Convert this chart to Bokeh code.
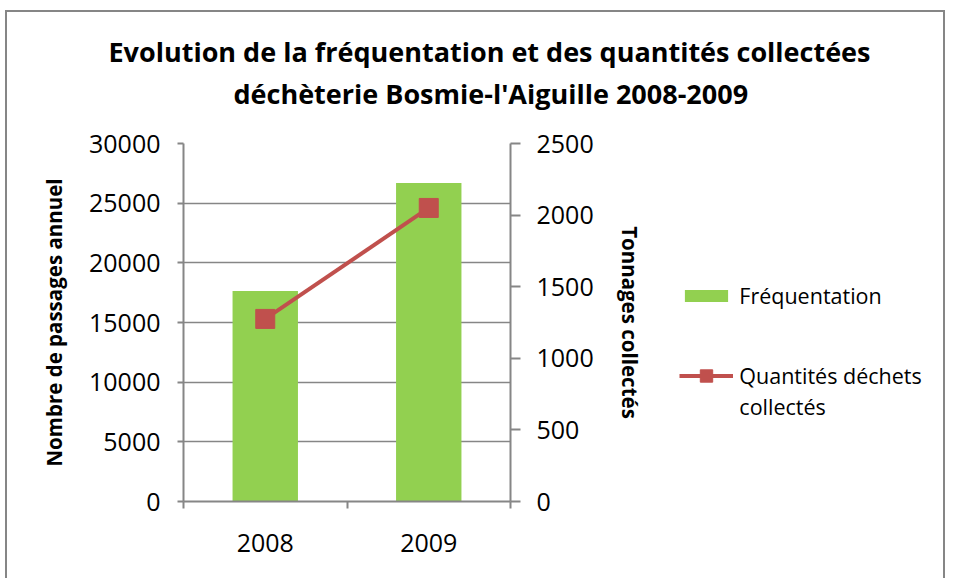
import math
from bokeh.plotting import figure
from bokeh.layouts import column
from bokeh.models import (Range1d, LinearAxis, FixedTicker, Title,
                          Legend, LegendItem, ColumnDataSource)
from bokeh.embed import file_html
from bokeh.resources import INLINE

# ---- data ----
categories = ["2008", "2009"]
frequentation = [17650, 26700]
tonnages = [1275, 2050]
left_ticks = [0, 5000, 10000, 15000, 20000, 25000, 30000]
right_ticks = [0, 500, 1000, 1500, 2000, 2500]
title_lines = ["Evolution de la fréquentation et des quantités collectées",
               "déchèterie Bosmie-l'Aiguille 2008-2009"]
left_label = "Nombre de passages annuel"
right_label = "Tonnages collectés"
series_names = ["Fréquentation", "Quantités déchets", "collectés"]

GRAY = "#868686"
GREEN = "#92D050"
RED = "#C0504D"
FONT = "Open Sans"

centres = [i + 0.5 for i in range(len(categories))]
bounds = list(range(len(categories) + 1))

src = ColumnDataSource(dict(x=centres, freq=frequentation, tons=tonnages))

p = figure(width=940, height=568,
           x_range=Range1d(0, len(categories)), y_range=Range1d(0, left_ticks[-1]),
           output_backend="svg", toolbar_location=None,
           min_border_left=176, min_border_right=437, min_border_top=131, min_border_bottom=79)
p.margin = (10, 0, 0, 5)
p.extra_y_ranges = {"t": Range1d(0, right_ticks[-1])}
p.outline_line_color = None
p.xgrid.visible = False
p.styles = {"border-top": f"2px solid {GRAY}", "border-left": f"2px solid {GRAY}",
            "border-right": f"2px solid {GRAY}"}

def style_axis(ax):
    ax.axis_line_color = GRAY
    ax.axis_line_width = 2
    ax.major_tick_line_color = GRAY
    ax.major_tick_line_width = 2
    ax.major_tick_in = 0
    ax.minor_tick_line_color = None
    ax.major_label_text_font = FONT
    ax.major_label_text_font_size = "25px"
    ax.major_label_text_color = "black"
    ax.axis_label_text_font = FONT
    ax.axis_label_text_font_style = "bold"
    ax.axis_label_text_font_size = "20.5px"
    ax.axis_label_text_color = "black"

# left axis
yl = p.yaxis[0]
yl.ticker = FixedTicker(ticks=left_ticks)
style_axis(yl)
yl.major_tick_out = 6
yl.major_label_standoff = 17
yl.axis_label = left_label
yl.axis_label_standoff = 18

p.ygrid.ticker = FixedTicker(ticks=left_ticks)
p.ygrid.grid_line_color = GRAY
p.ygrid.grid_line_width = 1.5

# right axis
yr = LinearAxis(y_range_name="t", ticker=FixedTicker(ticks=right_ticks))
style_axis(yr)
yr.major_tick_out = 10
yr.major_label_standoff = 16
yr.axis_label = right_label
yr.axis_label_standoff = 19
p.add_layout(yr, "right")

# bottom axis: labels at slot centres, ticks at slot boundaries
xa = p.xaxis[0]
xa.ticker = FixedTicker(ticks=centres, minor_ticks=bounds)
style_axis(xa)
xa.major_label_overrides = {c: lab for c, lab in zip(centres, categories)}
xa.major_tick_line_color = None
xa.major_tick_out = 0
xa.minor_tick_line_color = GRAY
xa.minor_tick_line_width = 2
xa.minor_tick_in = 0
xa.minor_tick_out = 7
xa.major_label_standoff = 25

# glyphs
p.vbar(x="x", top="freq", width=0.4, source=src, fill_color=GREEN, line_color=None)
p.line(x="x", y="tons", source=src, y_range_name="t", line_color=RED, line_width=4)
p.scatter(x="x", y="tons", source=src, y_range_name="t", marker="square", size=19,
          fill_color=RED, line_color=RED)

# title: spacer nearest the frame, then line 2, then line 1
p.add_layout(Title(text=" ", text_font_size="2px", standoff=26), "above")
for t, off in zip(reversed(title_lines), [50, -75]):
    p.add_layout(Title(text=t, align="left", offset=off, standoff=3, text_font=FONT,
                       text_font_size="27px", text_font_style="bold", text_color="black"),
                 "above")

# ---- transparent overlay panel on the right holding the legend ----
q = figure(width=337, height=250, x_range=Range1d(0, 1), y_range=Range1d(0, 1),
           output_backend="svg", toolbar_location=None,
           x_axis_location=None, y_axis_location=None, min_border=0)
q.margin = (-380, 0, 0, 610)
q.grid.visible = False
q.outline_line_color = None
q.background_fill_color = None
q.border_fill_color = None
# series drawn again completely out of view, only so the legend has its keys
q.extra_x_ranges = {"off": Range1d(1e6, 2e6)}
q.extra_y_ranges = {"off": Range1d(1e6, 2e6)}
off = dict(x_range_name="off", y_range_name="off", source=src)
k_bar = q.vbar(x="x", top="freq", width=0.4, fill_color=GREEN, line_color=None, **off)
k_line = q.line(x="x", y="tons", line_color=RED, line_width=4, **off)
k_pt = q.scatter(x="x", y="tons", marker="square", size=19,
                 fill_color=RED, line_color=RED, **off)
k_blank = q.scatter(x="x", y="tons", alpha=0, **off)

common = dict(padding=0, margin=0, glyph_width=54, label_standoff=6, spacing=0,
              border_line_color=None, background_fill_alpha=0,
              label_text_font=FONT, label_text_font_size="21.5px", label_text_color="black")
leg_a = Legend(items=[LegendItem(label=series_names[0], renderers=[k_bar])],
               location=(49, 138), glyph_height=15, **common)
leg_b = Legend(items=[LegendItem(label=series_names[1], renderers=[k_line, k_pt]),
                      LegendItem(label=series_names[2], renderers=[k_blank])],
               location=(49, 26), glyph_height=31, **common)
q.add_layout(leg_a)
q.add_layout(leg_b)

open("out.html", "w").write(file_html(column(p, q), INLINE))
